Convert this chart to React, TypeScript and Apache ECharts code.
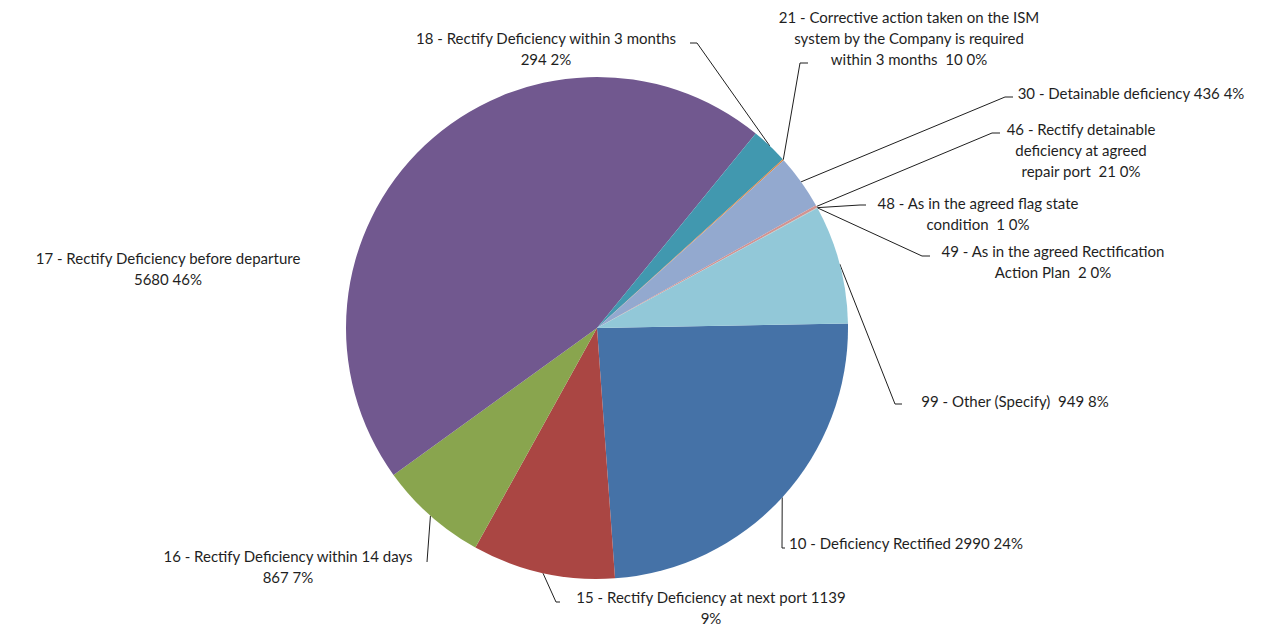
import React, { useEffect, useRef } from "react";
import * as echarts from "echarts";

const categories = [
  "10 - Deficiency Rectified",
  "15 - Rectify Deficiency at next port",
  "16 - Rectify Deficiency within 14 days",
  "17 - Rectify Deficiency before departure",
  "18 - Rectify Deficiency within 3 months",
  "21 - Corrective action taken on the ISM\nsystem by the Company is required\nwithin 3 months",
  "30 - Detainable deficiency",
  "46 - Rectify detainable\ndeficiency at agreed\nrepair port",
  "48 - As in the agreed flag state\ncondition",
  "49 - As in the agreed Rectification\nAction Plan",
  "99 - Other (Specify)",
];
const values = [2990, 1139, 867, 5680, 294, 10, 436, 21, 1, 2, 949];
const colors = [
  "#4572A7", "#AA4643", "#89A54E", "#71588F", "#4198AF", "#DB843D",
  "#93A9CF", "#D19392", "#B9CD96", "#A99BBD", "#92C8D8",
];
const labelFormats = [
  "{b} {c} {d}%", "{b} {c}\n{d}%", "{b}\n{c} {d}%", "{b}\n{c} {d}%", "{b}\n{c} {d}%",
  "{b}  {c} {d}%", "{b} {c} {d}%", "{b}  {c} {d}%", "{b}  {c} {d}%", "{b}  {c} {d}%", "{b}  {c} {d}%",
];

// label layout (centre of each label block) and leader-line bend/end points
const labelCenters: number[][] = [
  [906, 543], [711, 607], [288, 566], [168, 268], [546, 48], [909, 38],
  [1131, 93], [1081, 150], [978, 213], [1053, 261], [1015, 401],
];
const leaderBends: (number[] | null)[] = [
  [782, 548], [556, 602], [427, 562], null, [697, 43], [800, 63],
  [1005, 97], [992, 133], [860, 205], [922, 256], [895, 404],
];
const leaderEnds: (number[] | null)[] = [
  [785, 548], [560, 602], [427, 562], null, [690, 43], [808, 63],
  [1013, 97], [1000, 133], [866, 205], [930, 256], [902, 404],
];

export default function App() {
  const ref = useRef<HTMLDivElement>(null);
  useEffect(() => {
    if (!ref.current) return;
    const chart = echarts.init(ref.current, undefined, { renderer: "svg" });
    chart.setOption({
      animation: false,
      backgroundColor: "#ffffff",
      textStyle: { fontFamily: "Lato" },
      series: [
        {
          type: "pie",
          center: [597, 328],
          radius: [0, 251],
          startAngle: 1,
          clockwise: true,
          percentPrecision: 0,
          avoidLabelOverlap: false,
          itemStyle: { borderWidth: 0 },
          label: {
            show: true,
            position: "outside",
            color: "#1f1f1f",
            fontFamily: "Lato",
            fontSize: 15,
            lineHeight: 21,
            align: "center",
          },
          labelLine: {
            show: true,
            lineStyle: { color: "#1f1f1f", width: 1 },
          },
          labelLayout: (params: any) => {
            const i = params.dataIndex;
            const c = labelCenters[i];
            const res: any = { x: c[0], y: c[1], align: "center", verticalAlign: "middle" };
            const b = leaderBends[i];
            const e = leaderEnds[i];
            if (b && e && params.labelLinePoints) {
              res.labelLinePoints = [params.labelLinePoints[0], b, e];
            }
            return res;
          },
          data: values.map((v, i) => ({
            name: categories[i],
            value: v,
            itemStyle: { color: colors[i] },
            label: { formatter: labelFormats[i] },
            labelLine: { show: leaderBends[i] !== null },
          })),
        },
      ],
    });
    return () => chart.dispose();
  }, []);
  return (
    <div
      ref={ref}
      style={{ position: "fixed", left: 0, top: 0, width: 1280, height: 627 }}
    />
  );
}
